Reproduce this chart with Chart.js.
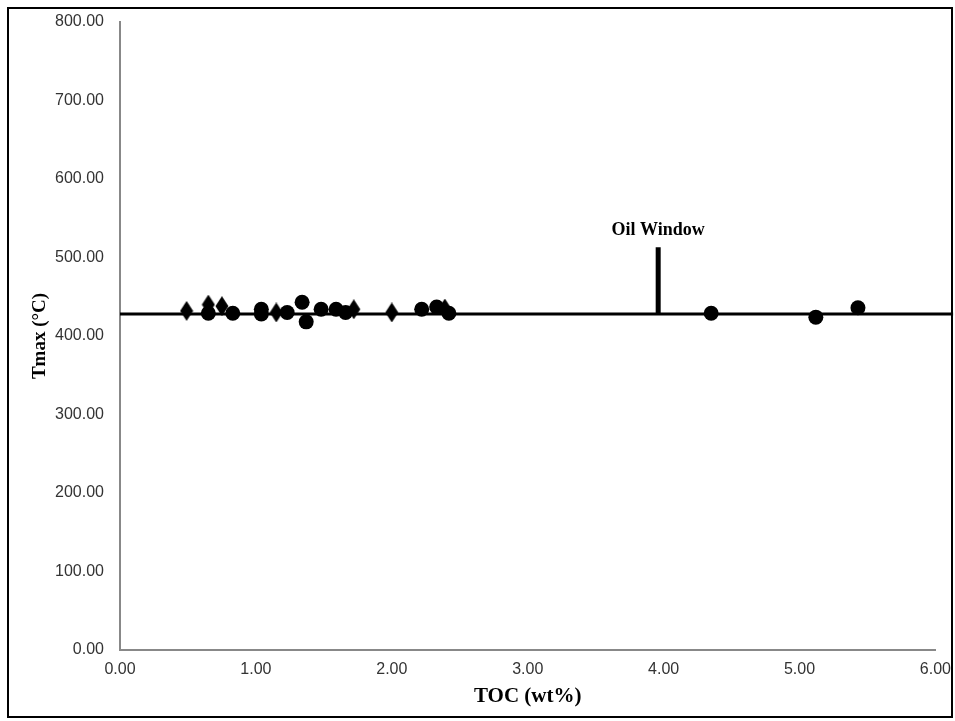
<!DOCTYPE html>
<html>
<head>
<meta charset="utf-8">
<script src="https://cdn.jsdelivr.net/npm/chart.js@4"></script>
<style>
html,body{margin:0;padding:0;background:#fff;}
#wrap{width:955px;height:721px;position:relative;}
</style>
</head>
<body>
<div id="wrap"><canvas id="c" width="955" height="721"></canvas></div>
<script>
// TOC (wt%) and Tmax (°C)
const diamondTOC  = [0.49, 0.65, 0.75, 1.15, 1.72, 2.00, 2.39];
const diamondTmax = [432, 440, 438, 430, 434, 430, 435];
const circleTOC   = [0.65, 0.83, 1.04, 1.04, 1.23, 1.34, 1.37, 1.48, 1.59, 1.66, 2.22, 2.33, 2.42, 4.35, 5.12, 5.43];
const circleTmax  = [429, 429, 434, 428, 430, 443, 418, 434, 434, 430, 434, 437, 429, 429, 424, 436];
const baselineTOC  = [0, 6.13];
const baselineTmax = [428, 428];
const oilWindowTOC  = [3.96, 3.96];
const oilWindowTmax = [428, 513];
const oilWindowLabel = "Oil Window";
const xTicks = [0, 1, 2, 3, 4, 5, 6];
const yTicks = [0, 100, 200, 300, 400, 500, 600, 700, 800];

const toPts = (xs, ys) => xs.map((x, i) => ({x: x, y: ys[i]}));

// tall diamond marker
const dm = document.createElement('canvas');
dm.width = 14; dm.height = 20;
(function(){
  const g = dm.getContext('2d');
  g.fillStyle = '#000';
  g.beginPath();
  g.moveTo(7, 0); g.lineTo(13.5, 10); g.lineTo(7, 20); g.lineTo(0.5, 10);
  g.closePath(); g.fill();
})();

const frame = {
  id: 'frame',
  afterDraw(chart) {
    const ctx = chart.ctx;
    ctx.save();
    ctx.strokeStyle = '#000';
    ctx.lineWidth = 2;
    ctx.strokeRect(8, 8, 944, 709);
    // Oil window label
    const xs = chart.scales.x, ys = chart.scales.y;
    ctx.font = 'bold 18px "Liberation Serif"';
    ctx.fillStyle = '#000';
    ctx.textAlign = 'center';
    ctx.textBaseline = 'middle';
    ctx.fillText(oilWindowLabel, xs.getPixelForValue(oilWindowTOC[0]), ys.getPixelForValue(oilWindowTmax[1]) - 17);
    ctx.restore();
  }
};

new Chart(document.getElementById('c'), {
  type: 'scatter',
  data: {
    datasets: [
      {
        label: 'baseline',
        data: toPts(baselineTOC, baselineTmax),
        showLine: true, borderColor: '#000', borderWidth: 3,
        pointRadius: 0, clip: false, order: 3
      },
      {
        label: 'oil window',
        data: toPts(oilWindowTOC, oilWindowTmax),
        showLine: true, borderColor: '#000', borderWidth: 5,
        pointRadius: 0, order: 2
      },
      {
        label: 'diamonds',
        data: toPts(diamondTOC, diamondTmax),
        pointStyle: dm, backgroundColor: '#000', borderColor: '#000', order: 1
      },
      {
        label: 'circles',
        data: toPts(circleTOC, circleTmax),
        pointStyle: 'circle', pointRadius: 7.5, backgroundColor: '#000', borderColor: '#000', borderWidth: 0, order: 0
      }
    ]
  },
  options: {
    responsive: false,
    animation: false,
    events: [],
    layout: { padding: { left: 0, right: 18, top: 22, bottom: 0 } },
    plugins: { legend: { display: false }, tooltip: { enabled: false } },
    scales: {
      x: {
        type: 'linear', min: 0, max: 6,
        afterBuildTicks: s => { s.ticks = xTicks.map(v => ({value: v})); },
        afterFit: s => { s.height = 71; },
        grid: { display: false, drawTicks: true, tickLength: 6, color: '#888' },
        border: { display: true, color: '#888', width: 2 },
        ticks: { color: '#333', font: { family: '"Liberation Sans"', size: 16 }, padding: 4, maxRotation: 0,
                 callback: v => v.toFixed(2) },
        title: { display: true, text: 'TOC (wt%)', color: '#000',
                 font: { family: '"Liberation Serif"', size: 21, weight: 'bold' }, padding: { top: 0, bottom: 12 } }
      },
      y: {
        type: 'linear', min: 0, max: 800,
        afterBuildTicks: s => { s.ticks = yTicks.map(v => ({value: v})); },
        afterFit: s => { s.width = 120; },
        grid: { display: false, drawTicks: true, tickLength: 6, color: '#888' },
        border: { display: true, color: '#888', width: 2 },
        ticks: { color: '#333', font: { family: '"Liberation Sans"', size: 16 }, padding: 10,
                 callback: v => v.toFixed(2) },
        title: { display: true, text: 'Tmax (°C)', color: '#000',
                 font: { family: '"Liberation Serif"', size: 19, weight: 'bold' }, padding: { top: 29, bottom: 0 } }
      }
    }
  },
  plugins: [frame]
});
</script>
</body>
</html>
